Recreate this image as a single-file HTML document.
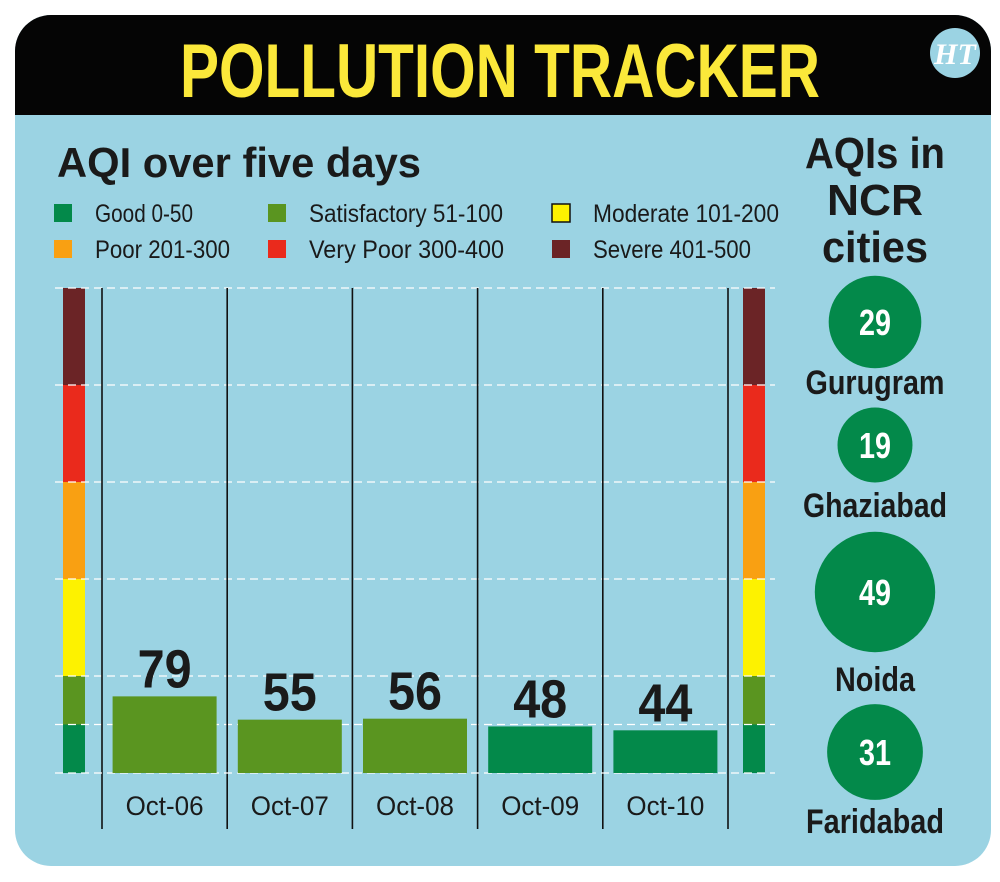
<!DOCTYPE html>
<html><head><meta charset="utf-8"><style>
html,body{margin:0;padding:0;background:#fff;}
svg{display:block;}
</style></head><body>
<svg width="1000" height="882" viewBox="0 0 1000 882" xmlns="http://www.w3.org/2000/svg" font-family="'Liberation Sans Narrow','Liberation Sans',sans-serif">
<defs><clipPath id="card"><rect x="15" y="15" width="976" height="851" rx="36"/></clipPath></defs>
<g clip-path="url(#card)">
<rect x="15" y="15" width="976" height="851" fill="#9bd3e3"/>
<rect x="15" y="15" width="976" height="100" fill="#050505"/>
</g>
<text x="500" y="97" text-anchor="middle" font-size="76" font-weight="bold" fill="#fbe83a" textLength="640" lengthAdjust="spacingAndGlyphs">POLLUTION TRACKER</text>
<g>
<circle cx="955" cy="53" r="25" fill="#9bd3e3"/>
<text x="955" y="64" text-anchor="middle" font-family="'Liberation Serif',serif" font-style="italic" font-weight="bold" font-size="30" fill="#fff">HT</text>
</g>
<text x="57" y="177" font-size="42" font-weight="bold" fill="#1a1a1a" textLength="364" lengthAdjust="spacingAndGlyphs">AQI over five days</text>
<g id="legend"></g>
<g id="chart"></g>
<g font-size="44" font-weight="bold" fill="#1a1a1a" text-anchor="middle">
<text x="875" y="168" textLength="140" lengthAdjust="spacingAndGlyphs">AQIs in</text>
<text x="875" y="215" textLength="96" lengthAdjust="spacingAndGlyphs">NCR</text>
<text x="875" y="262" textLength="106" lengthAdjust="spacingAndGlyphs">cities</text>
</g>
<g id="cities"></g>
<script>
const levelNames=["Good 0-50","Satisfactory 51-100","Moderate 101-200","Poor 201-300","Very Poor 300-400","Severe 401-500"];
const levelBounds=[0,50,100,200,300,400,500];
const levelColors=["#03894a","#5a9520","#fdf200","#f9a012","#ea2a1c","#6b2426"];
const days=["Oct-06","Oct-07","Oct-08","Oct-09","Oct-10"];
const aqi=[79,55,56,48,44];
const cities=["Gurugram","Ghaziabad","Noida","Faridabad"];
const cityAqi=[29,19,49,31];
const NS="http://www.w3.org/2000/svg";
function mk(t,a,p,txt){const e=document.createElementNS(NS,t);for(const k in a)e.setAttribute(k,a[k]);if(txt!==undefined)e.textContent=txt;p.appendChild(e);return e;}
// legend
const lg=document.getElementById('legend');
const legW=[98,194,186,135,195,158];
const lx=[54,268,552],ly=[204,240];
levelNames.forEach((nm,k)=>{const c=k%3,r=Math.floor(k/3);
 const sq=mk('rect',{x:lx[c],y:ly[r],width:18,height:18,fill:levelColors[k],stroke:k==2?'#111':'none','stroke-width':1.5},lg);
 
 
 const t=mk('text',{x:lx[c]+41,y:ly[r]+18,'font-size':25,fill:'#1a1a1a',textLength:legW[k],lengthAdjust:'spacingAndGlyphs'},lg,nm);
 
 
});
// chart
const ch=document.getElementById('chart');
const y0=773,yTop=288;
const y=v=>y0-(v/500)*(y0-yTop);
const colX0=102,colW=125.2;
[63,743].forEach(sx=>{for(let i=0;i<6;i++){const r=mk('rect',{x:sx,y:y(levelBounds[i+1]),width:22,height:y(levelBounds[i])-y(levelBounds[i+1]),fill:levelColors[i]},ch);
 
 }});
levelBounds.slice(1).forEach(b=>{const l=mk('line',{x1:55,x2:775,y1:y(b),y2:y(b),stroke:'#fff','stroke-width':1.2,'stroke-dasharray':'8 5'},ch);
 
 });
for(let i=0;i<=days.length;i++){const l=mk('line',{x1:colX0+i*colW,x2:colX0+i*colW,y1:288,y2:829,stroke:'#111','stroke-width':1.6},ch);
 
 }
const baseL=mk('line',{x1:55,x2:775,y1:y0,y2:y0,stroke:'#fff','stroke-width':1.2,'stroke-dasharray':'8 5'},ch);


days.forEach((d,i)=>{const v=aqi[i];let li=0;while(li<5&&v>levelBounds[li+1])li++;
 const cx=colX0+i*colW+colW/2;
 const b=mk('rect',{x:cx-52,y:y(v),width:104,height:y0-y(v),fill:levelColors[li]},ch);
 
 
 const t=mk('text',{x:cx,y:y(v)-9,'text-anchor':'middle','font-size':54,'font-weight':'bold',fill:'#1a1a1a',textLength:54,lengthAdjust:'spacingAndGlyphs'},ch,String(v));
 
 
 const dl=mk('text',{x:cx,y:815,'text-anchor':'middle','font-size':27,fill:'#1a1a1a',textLength:78,lengthAdjust:'spacingAndGlyphs'},ch,d);
 
 
});
// cities
const cg=document.getElementById('cities');
const cyC=[322,445,592,752],ly2=[394,517,691,833];
const cityW=[139,144,80,138];
cities.forEach((c,i)=>{const r=8.6*Math.sqrt(cityAqi[i]);
 const ci=mk('circle',{cx:875,cy:cyC[i],r:r,fill:'#03894a'},cg);
 
 
 const v=mk('text',{x:875,y:cyC[i]+13,'text-anchor':'middle','font-size':36,'font-weight':'bold',fill:'#fff',textLength:32,lengthAdjust:'spacingAndGlyphs'},cg,String(cityAqi[i]));
 
 
 const n=mk('text',{x:875,y:ly2[i],'text-anchor':'middle','font-size':34,'font-weight':'bold',fill:'#1a1a1a',textLength:cityW[i],lengthAdjust:'spacingAndGlyphs'},cg,c);
 
 
});
</script>
</svg>
</body></html>
